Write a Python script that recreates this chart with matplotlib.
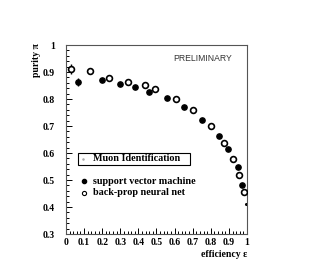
import numpy as np
import matplotlib as mpl
mpl.use('Agg')
import matplotlib.pyplot as plt
from matplotlib.ticker import MultipleLocator
from matplotlib.patches import Rectangle

# support vector machine (filled)
svm_eff = [0.066, 0.20, 0.30, 0.38, 0.46, 0.56, 0.65, 0.751, 0.847, 0.897, 0.948, 0.974]
svm_pur = [0.862, 0.870, 0.855, 0.846, 0.827, 0.803, 0.772, 0.724, 0.664, 0.614, 0.547, 0.480]
svm_err = [0.015, 0, 0, 0, 0, 0, 0, 0, 0, 0, 0, 0]

# back-prop neural net (open)
nn_eff = [0.026, 0.134, 0.24, 0.34, 0.435, 0.49, 0.61, 0.70, 0.80, 0.873, 0.92, 0.957, 0.985]
nn_pur = [0.911, 0.904, 0.879, 0.862, 0.852, 0.837, 0.800, 0.759, 0.699, 0.636, 0.579, 0.517, 0.456]
nn_err = [0.02, 0, 0, 0, 0, 0, 0, 0, 0, 0, 0, 0, 0]

tail_eff = [0.993]
tail_pur = [0.41]

x_ticks = [0, 0.1, 0.2, 0.3, 0.4, 0.5, 0.6, 0.7, 0.8, 0.9, 1.0]
x_labels = ['0', '0.1', '0.2', '0.3', '0.4', '0.5', '0.6', '0.7', '0.8', '0.9', '1']
y_ticks = [0.3, 0.4, 0.5, 0.6, 0.7, 0.8, 0.9, 1.0]
y_labels = ['0.3', '0.4', '0.5', '0.6', '0.7', '0.8', '0.9', '1']

serif = 'Liberation Serif'

fig = plt.figure(figsize=(3.14, 2.6), dpi=100)
ax = fig.add_axes([0.2102, 0.1, 0.5764, 0.7269])

ax.errorbar(svm_eff, svm_pur, yerr=svm_err, fmt='o', ms=3.8, mfc='black', mec='black',
            ecolor='black', elinewidth=1.0, capsize=0, zorder=3)
ax.errorbar(nn_eff, nn_pur, yerr=nn_err, fmt='o', ms=4.2, mfc='white', mec='black', mew=1.2,
            ecolor='black', elinewidth=1.0, capsize=0, zorder=3)
ax.plot(tail_eff, tail_pur, 'o', ms=1.2, color='black')

ax.set_xlim(0, 1)
ax.set_ylim(0.3, 1)
ax.set_xticks(x_ticks)
ax.set_xticklabels(x_labels)
ax.set_yticks(y_ticks)
ax.set_yticklabels(y_labels)
ax.xaxis.set_minor_locator(MultipleLocator(0.02))
ax.yaxis.set_minor_locator(MultipleLocator(0.02))
ax.tick_params(which='both', direction='in', top=False, right=False, width=0.7,
               labelsize=7)
ax.tick_params(which='major', length=4)
ax.tick_params(which='minor', length=2)
ax.tick_params(axis='x', which='major', pad=3)
ax.tick_params(axis='y', which='major', pad=8)
for lab in ax.get_xticklabels() + ax.get_yticklabels():
    lab.set_fontfamily(serif)
    lab.set_fontweight('bold')
for sp in ax.spines.values():
    sp.set_linewidth(0.8)
    sp.set_color('#555555')

fig.text(0.115, 0.835, 'purity π', rotation=90, ha='center', va='top',
         family=serif, fontweight='bold', fontsize=7)
fig.text(0.787, 0.023, 'efficiency ε', ha='right', va='center',
         family=serif, fontweight='bold', fontsize=7)

ax.text(0.915, 0.93, 'PRELIMINARY', transform=ax.transAxes, ha='right', va='center',
        family='Liberation Sans', fontsize=6.2, color='#333333')

ax.add_patch(Rectangle((0.066, 0.365), 0.619, 0.064, transform=ax.transAxes,
                       fc='white', ec='black', lw=0.8, zorder=4))
ax.plot([0.095], [0.397], 'o', ms=0.8, color='#aaaaaa', transform=ax.transAxes, zorder=5)
ax.text(0.149, 0.397, 'Muon Identification', transform=ax.transAxes, ha='left', va='center',
        family=serif, fontweight='bold', fontsize=7.3, zorder=5)
ax.plot([0.10], [0.28], 'o', ms=3, color='black', transform=ax.transAxes)
ax.text(0.149, 0.28, 'support vector machine', transform=ax.transAxes, ha='left', va='center',
        family=serif, fontweight='bold', fontsize=7.3)
ax.plot([0.10], [0.218], 'o', ms=3, mfc='white', mec='black', mew=0.8, transform=ax.transAxes)
ax.text(0.149, 0.218, 'back-prop neural net', transform=ax.transAxes, ha='left', va='center',
        family=serif, fontweight='bold', fontsize=7.3)

fig.savefig('out.png', dpi=100)
